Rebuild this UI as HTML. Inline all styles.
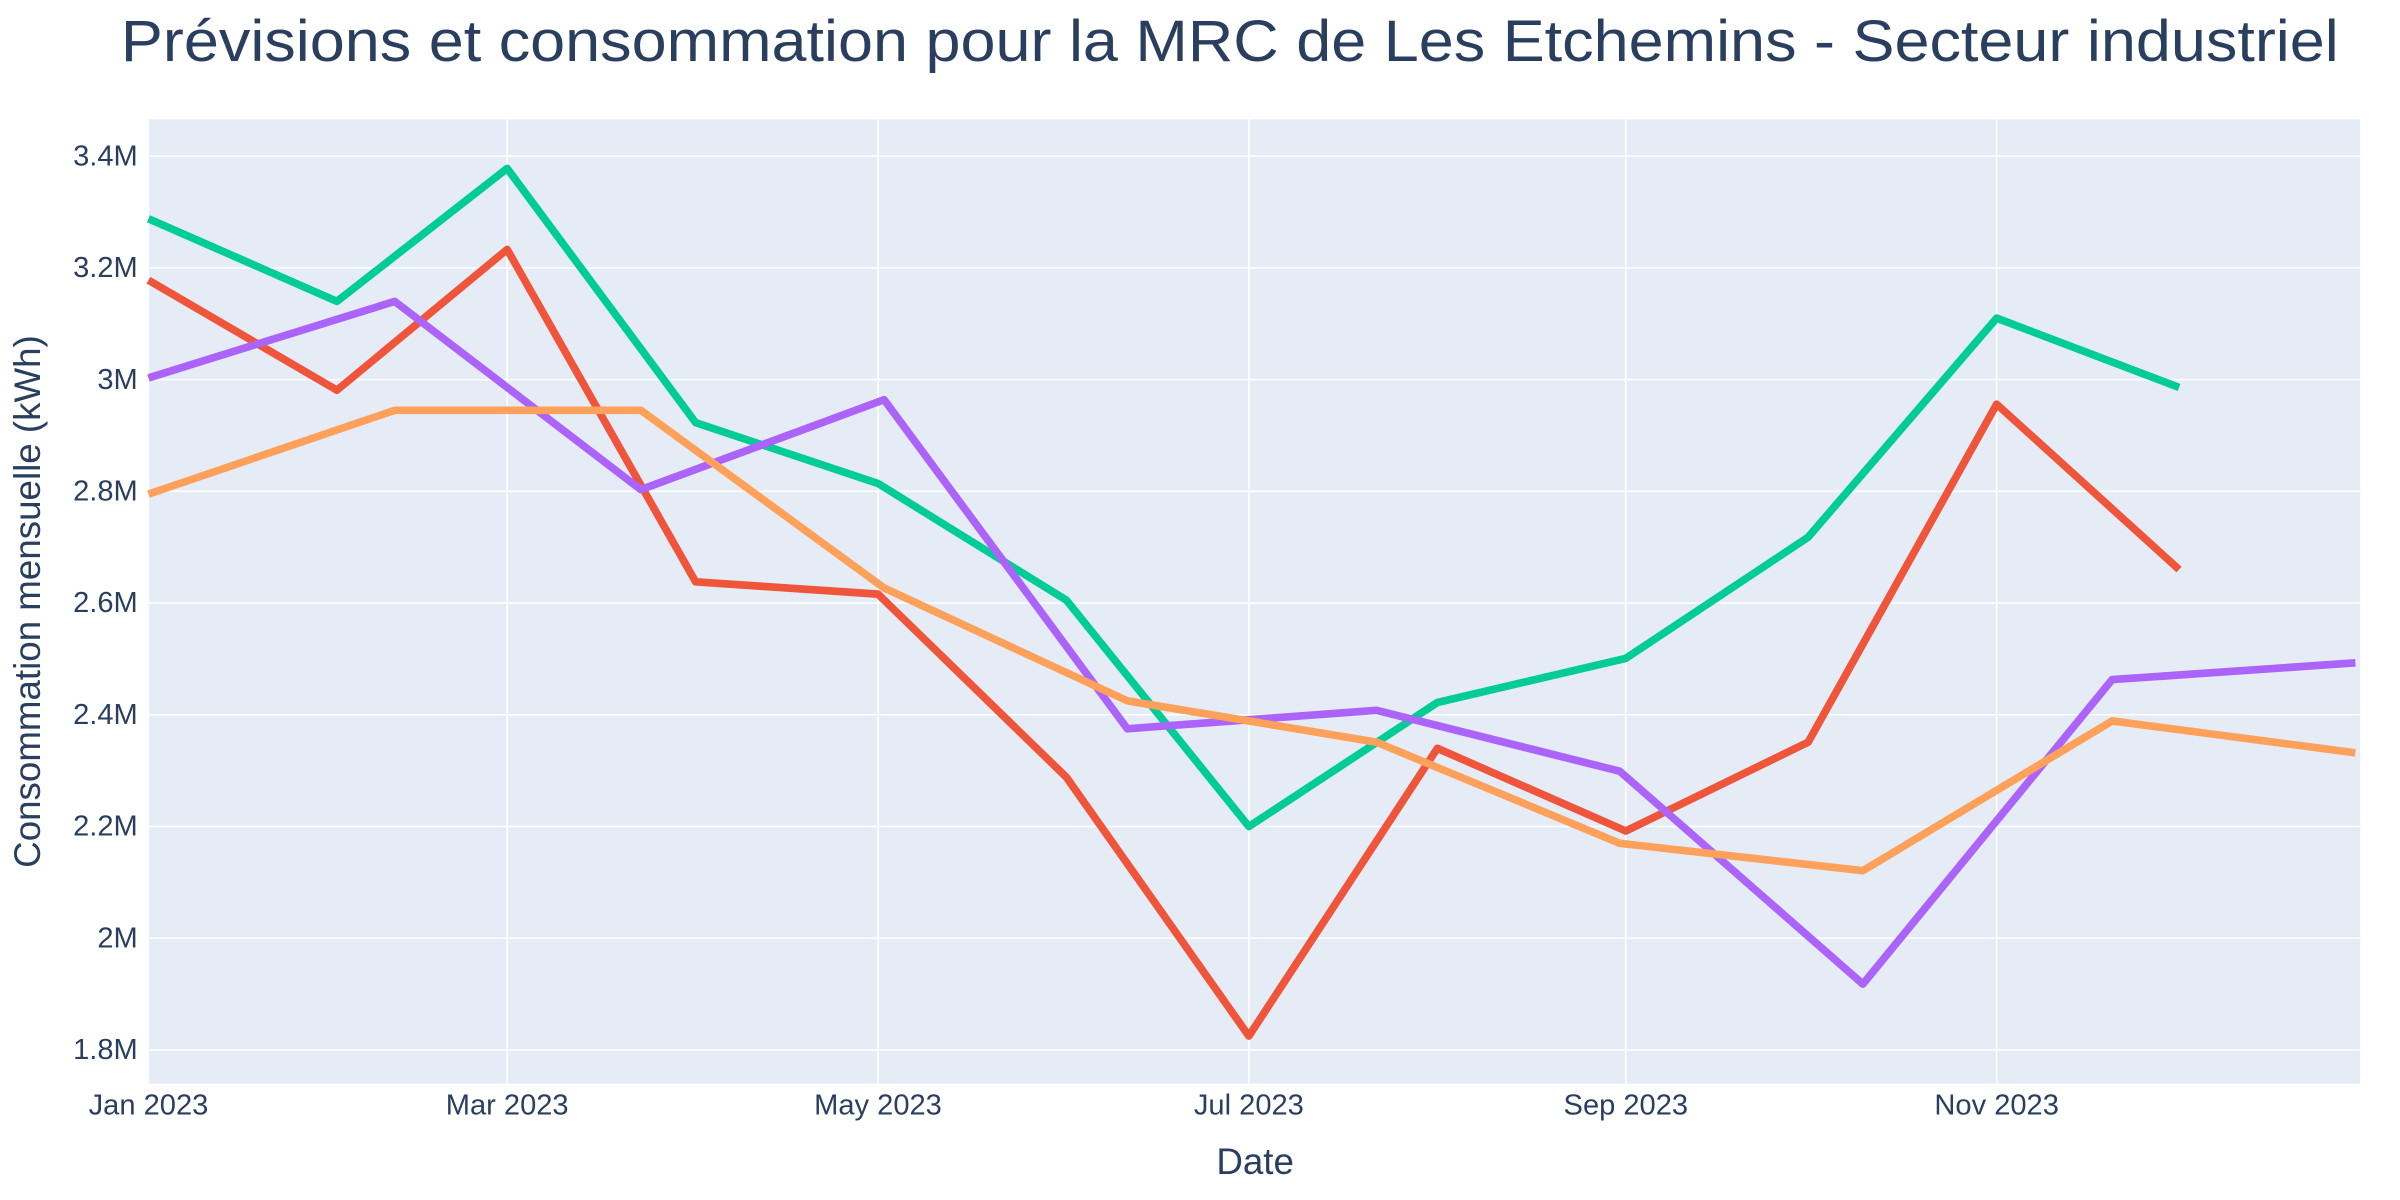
<!DOCTYPE html>
<html><head><meta charset="utf-8"><style>
html,body{margin:0;padding:0;background:#fff;}
svg{display:block;font-family:"Liberation Sans",sans-serif;}
</style></head><body>
<svg id="chart" width="2400" height="1200" viewBox="0 0 1568 784" xmlns="http://www.w3.org/2000/svg">
<text x="79" y="40" font-size="38" fill="#2a3f5f" textLength="1449" lengthAdjust="spacingAndGlyphs">Prévisions et consommation pour la MRC de Les Etchemins - Secteur industriel</text>
<rect x="97" y="78" width="1445" height="630" fill="#e5ecf6"/>
<g id="grid"></g><g id="series"></g><g id="ticks"></g>
<text x="820" y="767" font-size="24" fill="#2a3f5f" text-anchor="middle">Date</text>
<text transform="translate(26,393) rotate(-90)" font-size="24" fill="#2a3f5f" text-anchor="middle">Consommation mensuelle (kWh)</text>
</svg>
<script>
const monthlyDays=[0,31,59,90,120,151,181,212,243,273,304,334];
const greenValues=[3.288,3.14,3.378,2.923,2.814,2.605,2.2,2.422,2.501,2.718,3.11,2.986];
const redValues=[3.178,2.981,3.233,2.638,2.616,2.288,1.825,2.34,2.192,2.351,2.956,2.66];
const altDays=[0,40.5,81,121,161,202,242,282,323,363];
const purpleValues=[3.003,3.14,2.803,2.964,2.375,2.408,2.299,1.918,2.463,2.493];
const orangeValues=[2.795,2.945,2.945,2.627,2.425,2.351,2.170,2.121,2.389,2.332];
const yTicks=[1.8,2,2.2,2.4,2.6,2.8,3,3.2,3.4];
const yTickLabels=["1.8M","2M","2.2M","2.4M","2.6M","2.8M","3M","3.2M","3.4M"];
const xTickDays=[0,59,120,181,243,304];
const xTickLabels=["Jan 2023","Mar 2023","May 2023","Jul 2023","Sep 2023","Nov 2023"];
const X=d=>97+d*3.972;
const Y=v=>102+(3.4-v)*365;
const NS="http://www.w3.org/2000/svg";
function mk(tag,attrs,parent){const e=document.createElementNS(NS,tag);for(const k in attrs)e.setAttribute(k,attrs[k]);parent.appendChild(e);return e;}
const grid=document.getElementById('grid'),ticks=document.getElementById('ticks'),ser=document.getElementById('series');
yTicks.forEach((v,i)=>{
 const l=mk('line',{x1:97,x2:1542,y1:Y(v),y2:Y(v),stroke:'#fff','stroke-width':1},grid);
 
 
 const t=mk('text',{x:90,y:Y(v)+6,'font-size':19,fill:'#2a3f5f','text-anchor':'end'},ticks);
 t.textContent=yTickLabels[i];
 
 
});
xTickDays.forEach((d,i)=>{
 const l=mk('line',{x1:X(d),x2:X(d),y1:78,y2:708,stroke:'#fff','stroke-width':1},grid);
 
 
 const t=mk('text',{x:X(d),y:728,'font-size':19,fill:'#2a3f5f','text-anchor':'middle'},ticks);
 t.textContent=xTickLabels[i];
 
 
});
function line(days,vals,color,name){
 const p=mk('polyline',{points:days.map((d,i)=>X(d)+','+Y(vals[i])).join(' '),fill:'none',stroke:color,'stroke-width':5,'stroke-linejoin':'round'},ser);
 
 
}
line(monthlyDays,greenValues,'#00cc96','series-green');
line(monthlyDays,redValues,'#EF553B','series-red');
line(altDays,purpleValues,'#ab63fa','series-purple');
line(altDays,orangeValues,'#FFA15A','series-orange');
</script>
</body></html>
